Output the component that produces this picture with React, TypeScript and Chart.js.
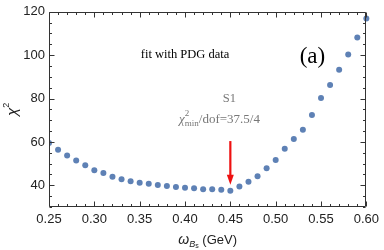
import React, { useEffect, useRef } from "react";
import { Chart, registerables } from "chart.js";

Chart.register(...registerables);

const omegaValues = [
  0.25, 0.26, 0.27, 0.28, 0.29, 0.3, 0.31, 0.32, 0.33, 0.34, 0.35, 0.36,
  0.37, 0.38, 0.39, 0.4, 0.41, 0.42, 0.43, 0.44, 0.45, 0.46, 0.47, 0.48,
  0.49, 0.5, 0.51, 0.52, 0.53, 0.54, 0.55, 0.56, 0.57, 0.58, 0.59, 0.6,
];
const chi2Values = [
  59.5, 56.4, 53.8, 51.4, 49.3, 46.9, 45.7, 43.9, 42.8, 41.9, 41.2, 40.7,
  40.2, 39.7, 39.2, 38.9, 38.6, 38.2, 38.2, 37.9, 37.5, 39.4, 41.6, 44.2,
  47.9, 51.7, 56.8, 61.3, 65.6, 72.4, 80.3, 86.3, 93.3, 100.3, 108.1, 116.9,
];
const xMajorTicks = [0.25, 0.3, 0.35, 0.4, 0.45, 0.5, 0.55, 0.6];
const yMajorTicks = [40, 60, 80, 100, 120];
const xMinorStep = 0.01;
const yMinorStep = 5;
const arrowX = 0.45;
const arrowFrom = 60.4;
const arrowTo = 40.3;

const SERIF = "'Liberation Serif', 'DejaVu Serif', serif";
const SANS = "'Liberation Sans', Arial, sans-serif";

type Seg = { t: string; font: string; dy: number; stack?: boolean };

// segments with stack=true are drawn at the same x as the previous segment
function drawSegs(ctx: CanvasRenderingContext2D, segs: Seg[], x: number, y: number, align: "left" | "center") {
  const widths: number[] = segs.map((s) => {
    ctx.font = s.font;
    return ctx.measureText(s.t).width;
  });
  let total = 0;
  let prevW = 0;
  segs.forEach((s, i) => {
    if (s.stack) {
      total += Math.max(0, widths[i] - prevW);
      prevW = Math.max(prevW, widths[i]);
    } else {
      total += widths[i];
      prevW = widths[i];
    }
  });
  let cx = align === "center" ? x - total / 2 : x;
  ctx.textAlign = "left";
  let startX = cx;
  let groupW = 0;
  segs.forEach((s, i) => {
    ctx.font = s.font;
    if (s.stack) {
      ctx.fillText(s.t, startX, y + s.dy);
      groupW = Math.max(groupW, widths[i]);
      cx = startX + groupW;
    } else {
      startX = cx;
      groupW = widths[i];
      ctx.fillText(s.t, cx, y + s.dy);
      cx += widths[i];
    }
  });
}

const framePlugin = {
  id: "framePlugin",
  afterDatasetsDraw(chart: any) {
    const { ctx, chartArea, scales } = chart;
    const { left, right, top, bottom } = chartArea;
    const xs = scales.x;
    const ys = scales.y;
    ctx.save();
    // arrow
    const ax = xs.getPixelForValue(arrowX);
    const ay1 = ys.getPixelForValue(arrowFrom);
    const ay2 = ys.getPixelForValue(arrowTo);
    ctx.strokeStyle = "#ee1111";
    ctx.fillStyle = "#ee1111";
    ctx.lineWidth = 2.2;
    ctx.beginPath();
    ctx.moveTo(ax, ay1);
    ctx.lineTo(ax, ay2 - 8);
    ctx.stroke();
    ctx.beginPath();
    ctx.moveTo(ax - 3.5, ay2 - 10);
    ctx.lineTo(ax + 3.5, ay2 - 10);
    ctx.lineTo(ax, ay2);
    ctx.closePath();
    ctx.fill();

    // frame
    ctx.strokeStyle = "#333333";
    ctx.lineWidth = 1;
    const L = Math.round(left) + 0.5;
    const R = Math.round(right) - 0.5;
    const T = Math.round(top) + 0.5;
    const B = Math.round(bottom) - 0.5;
    ctx.beginPath();
    ctx.moveTo(L, T);
    ctx.lineTo(R, T);
    ctx.lineTo(R, B);
    ctx.lineTo(L, B);
    ctx.closePath();
    const xmin = xs.min, xmax = xs.max;
    const nX = Math.round((xmax - xmin) / xMinorStep);
    for (let i = 0; i <= nX; i++) {
      const v = xmin + i * xMinorStep;
      const major = xMajorTicks.some((t) => Math.abs(t - v) < 1e-6);
      const len = major ? 5 : 2.5;
      const px = Math.round(xs.getPixelForValue(v)) + 0.5;
      ctx.moveTo(px, B);
      ctx.lineTo(px, B - len);
      ctx.moveTo(px, T);
      ctx.lineTo(px, T + len);
    }
    const ymin = ys.min, ymax = ys.max;
    const nY = Math.round((ymax - ymin) / yMinorStep);
    for (let i = 0; i <= nY; i++) {
      const v = ymin + i * yMinorStep;
      const major = yMajorTicks.includes(v);
      const len = major ? 5 : 2.5;
      const py = Math.round(ys.getPixelForValue(v)) + 0.5;
      ctx.moveTo(L, py);
      ctx.lineTo(L + len, py);
      ctx.moveTo(R, py);
      ctx.lineTo(R - len, py);
    }
    ctx.stroke();

    // annotations
    ctx.textBaseline = "middle";
    ctx.fillStyle = "#000";
    ctx.font = `12.5px ${SERIF}`;
    ctx.textAlign = "center";
    ctx.fillText("fit with PDG data", xs.getPixelForValue(0.4), ys.getPixelForValue(100));
    ctx.font = `23px ${SERIF}`;
    ctx.fillText("(a)", xs.getPixelForValue(0.5405), ys.getPixelForValue(99));
    ctx.fillStyle = "#777777";
    ctx.font = `12.5px ${SERIF}`;
    ctx.fillText("S1", xs.getPixelForValue(0.449), ys.getPixelForValue(80));
    drawSegs(
      ctx,
      [
        { t: "χ", font: `italic 13px ${SERIF}`, dy: 0 },
        { t: "2", font: `9px ${SERIF}`, dy: -6 },
        { t: "min", font: `9px ${SERIF}`, dy: 4, stack: true },
        { t: "/dof=37.5/4", font: `13px ${SERIF}`, dy: 0 },
      ],
      xs.getPixelForValue(0.3935),
      ys.getPixelForValue(70.5),
      "left"
    );
    // axis titles
    ctx.fillStyle = "#222";
    drawSegs(
      ctx,
      [
        { t: "ω", font: `italic 14px ${SANS}`, dy: 0 },
        { t: "B", font: `italic 9px ${SANS}`, dy: 4 },
        { t: "s", font: `7px ${SANS}`, dy: 6 },
        { t: " (GeV)", font: `13px ${SANS}`, dy: 0 },
      ],
      (left + right) / 2,
      240,
      "center"
    );
    ctx.save();
    ctx.translate(13, (top + bottom) / 2);
    ctx.rotate(-Math.PI / 2);
    drawSegs(
      ctx,
      [
        { t: "χ", font: `italic 15px ${SANS}`, dy: 0 },
        { t: "2", font: `9px ${SANS}`, dy: -6 },
      ],
      0,
      0,
      "center"
    );
    ctx.restore();
    ctx.restore();
  },
};

export default function App() {
  const ref = useRef<HTMLCanvasElement>(null);
  useEffect(() => {
    document.body.style.margin = "0";
    const canvas = ref.current;
    if (!canvas) return;
    const chart = new Chart(canvas, {
      type: "scatter",
      data: {
        datasets: [
          {
            data: omegaValues.map((x, i) => ({ x, y: chi2Values[i] })),
            backgroundColor: "rgb(94,129,181)",
            borderWidth: 0,
            pointRadius: 3,
            clip: { left: 0, right: false, top: false, bottom: false } as any,
          },
        ],
      },
      options: {
        animation: false,
        responsive: true,
        maintainAspectRatio: false,
        layout: { padding: { left: 0, right: 13, top: 7, bottom: 0 } },
        plugins: { legend: { display: false }, tooltip: { enabled: false } },
        scales: {
          x: {
            type: "linear",
            min: 0.25,
            max: 0.6,
            grid: { display: false, drawTicks: false },
            border: { display: false },
            afterBuildTicks: (s: any) => {
              s.ticks = xMajorTicks.map((v) => ({ value: v }));
            },
            afterFit: (s: any) => {
              s.height = 43;
            },
            ticks: {
              padding: 5,
              color: "#222",
              font: { family: SANS, size: 13 },
              maxRotation: 0,
              callback: (v: any) => Number(v).toFixed(2),
            },
          },
          y: {
            type: "linear",
            min: 30,
            max: 120,
            grid: { display: false, drawTicks: false },
            border: { display: false },
            afterBuildTicks: (s: any) => {
              s.ticks = yMajorTicks.map((v) => ({ value: v }));
            },
            afterFit: (s: any) => {
              s.width = 49;
            },
            ticks: {
              padding: 4,
              color: "#222",
              font: { family: SANS, size: 13 },
            },
          },
        },
      },
      plugins: [framePlugin],
    });
    return () => chart.destroy();
  }, []);
  return (
    <div style={{ position: "absolute", left: 0, top: 0, width: 384, height: 250, background: "#fff" }}>
      <canvas ref={ref} />
    </div>
  );
}
